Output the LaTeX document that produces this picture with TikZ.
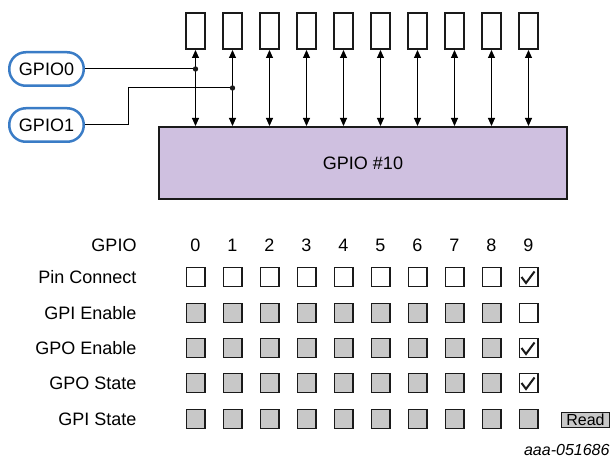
\documentclass[tikz,border=0pt]{standalone}
\usepackage{fontspec}
\setmainfont{Liberation Sans}
\usetikzlibrary{positioning, arrows.meta, calc}
\definecolor{figink}{HTML}{1A1A1A}
\definecolor{blkfill}{HTML}{CFC0E0}
\definecolor{pillblue}{HTML}{3A7CC6}
\definecolor{boxgray}{HTML}{C8C8C8}

\begin{document}
\begin{tikzpicture}[
  x=1pt, y=-1pt,
  line width=1pt, line join=miter,
  >={Triangle[length=8pt, width=7pt]},
  pin/.style   = {draw=figink, line width=2pt, fill=white, inner sep=0pt,
                  minimum width=19pt, minimum height=36pt},
  blk/.style   = {draw=figink, line width=2pt, fill=blkfill, inner sep=0pt,
                  minimum width=408pt, minimum height=72pt,
                  font=\fontsize{18}{21}\selectfont},
  pill/.style  = {draw=pillblue, line width=2.5pt, fill=white, inner sep=0pt,
                  minimum width=74.5pt, minimum height=33.5pt,
                  rounded corners=16.5pt, font=\fontsize{18}{21}\selectfont},
  lbl/.style   = {anchor=east, inner sep=0pt, font=\fontsize{18}{21}\selectfont},
  hdr/.style   = {inner sep=0pt, font=\fontsize{18}{21}\selectfont},
  cbox/.style  = {draw=figink, line width=1.3pt, fill=white, inner sep=0pt,
                  minimum size=18.7pt},
  tick/.style  = {draw=figink, line width=2pt},
  btn/.style   = {draw=figink, line width=1.3pt, fill=boxgray, inner sep=0pt,
                  minimum width=48pt, minimum height=15pt,
                  font=\fontsize{16}{18}\selectfont},
  dot/.style   = {fill=figink}
]
\useasboundingbox (0,0) rectangle (611,462);

% pins and the GPIO block
\foreach \i in {0,...,9}
  \node[pin] (pin\i) at (195.5+37*\i,31) {};
\node[blk] (blk) at (363,163) {GPIO \#10};

\foreach \i in {0,...,9}
  \draw[<->] (pin\i.south) -- (pin\i.south |- blk.north);

% GPIO0 / GPIO1 inputs
\node[pill] (g0) at (46.5,69) {GPIO0};
\node[pill] (g1) at (46.5,125) {GPIO1};

\coordinate (lvl1) at (0,88);
\coordinate (j0) at (pin0.south |- g0.east);
\coordinate (j1) at (pin1.south |- lvl1);

\draw (g0.east) -- (j0);
\draw (g1.east) -- ++(43,0) |- (j1);
\fill[dot] (j0) circle (2.7);
\fill[dot] (j1) circle (2.7);

% register table
\node[lbl] (head) at (137,245) {GPIO};
\foreach \i in {0,...,9}
  \node[hdr] (n\i) at (pin\i |- head) {\i};

\foreach \y/\txt [count=\k] in {277/Pin Connect, 313/GPI Enable,
    348/GPO Enable, 383/GPO State, 419/GPI State}
  \node[lbl] (row\k) at (137,\y) {\txt};

% Pin Connect: all open
\foreach \i in {0,...,9}
  \node[cbox] (c1-\i) at (pin\i |- row1) {};
% other rows greyed out for pins 0-8
\foreach \k in {2,...,5}
  \foreach \i in {0,...,8}
    \node[cbox, fill=boxgray] (c\k-\i) at (pin\i |- row\k) {};
% pin 9
\node[cbox] (c2-9) at (pin9 |- row2) {};
\node[cbox] (c3-9) at (pin9 |- row3) {};
\node[cbox] (c4-9) at (pin9 |- row4) {};
\node[cbox, fill=boxgray] (c5-9) at (pin9 |- row5) {};

\foreach \k in {1,3,4}
  \draw[tick] ([shift={(-7,0)}]c\k-9.center) -- ([shift={(-2.5,6)}]c\k-9.center)
    -- ([shift={(6,-5.5)}]c\k-9.center);

\node[btn] (read) at (585.5,420) {Read};

\node[anchor=east, inner sep=0pt, font=\fontsize{16}{18}\selectfont\itshape]
  (figid) at (610,450) {aaa-051686};

\end{tikzpicture}
\end{document}
